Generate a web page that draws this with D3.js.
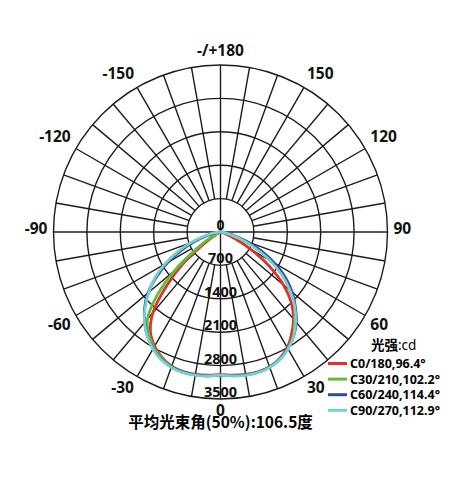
<!DOCTYPE html>
<html lang="zh">
  <head>
    <meta charset="UTF-8" />
    <title>配光曲线</title>
    <script src="https://d3js.org/d3.v7.min.js"></script>
    <style>
      body {
        margin: 0;
        background: #fff;
        font-family: "Noto Sans", "Noto Sans CJK SC", sans-serif;
      }
      .lbl {
        font-weight: bold;
        fill: #111;
      }
    </style>
  </head>
  <body>
    <div id="chart"></div>
    <script>
      // gamma angles, -90 (left) .. 90 (right), step 5
      const angles = d3.range(-90, 91, 5);

      const ringTicks = [700, 1400, 2100, 2800, 3500];
      const angleTicks = [0, 30, 60, 90, 120, 150, 180, -150, -120, -90, -60, -30];
      const angleText = ["0", "30", "60", "90", "120", "150", "-/+180", "-150", "-120", "-90", "-60", "-30"];

      // intensity (cd) per angle in angles[]
      const c0 = [
        0, 0, 0, 5, 15, 40, 120, 380, 1000, 1600, 2200, 2560, 2760, 2900, 2990,
        3030, 3030, 3010, 2990, 3010, 3030, 3040, 3010, 2930, 2800, 2600, 2380,
        2100, 1720, 1250, 750, 350, 130, 40, 10, 0, 0,
      ];
      const c30 = [
        0, 0, 5, 15, 40, 100, 250, 600, 1250, 1880, 2380, 2620, 2790, 2920,
        3000, 3030, 3040, 3030, 3000, 3020, 3040, 3040, 3010, 2940, 2820, 2660,
        2420, 2200, 1900, 1600, 1230, 850, 500, 250, 100, 30, 0,
      ];
      const c60 = [
        0, 40, 130, 300, 560, 900, 1280, 1640, 1980, 2250, 2470, 2670, 2820,
        2940, 3010, 3040, 3040, 3020, 3000, 3020, 3040, 3040, 3010, 2940, 2820,
        2670, 2470, 2220, 1960, 1660, 1300, 950, 600, 320, 140, 40, 0,
      ];
      const c90 = [
        0, 60, 200, 400, 680, 1000, 1350, 1680, 1960, 2230, 2480, 2670, 2830,
        2950, 3020, 3050, 3050, 3030, 3000, 3030, 3050, 3050, 3020, 2950, 2830,
        2670, 2450, 2200, 1900, 1570, 1200, 800, 480, 250, 100, 30, 0,
      ];

      const seriesNames = [
        "C0/180,96.4°",
        "C30/210,102.2°",
        "C60/240,114.4°",
        "C90/270,112.9°",
      ];
      const seriesValues = [c0, c30, c60, c90];
      const colors = ["#e3302c", "#66bb36", "#2c4d9e", "#78cfcf"];

      const width = 459;
      const height = 500;
      const cx = 220.5;
      const cy = 232;
      const R = 167;

      const svg = d3
        .select("#chart")
        .append("svg")
        .attr("width", width)
        .attr("height", height);

      const r = d3.scaleLinear().domain([0, 3500]).range([0, R]);
      // 0 deg points down, positive to the right
      const toRad = (deg) => Math.PI - (deg * Math.PI) / 180;

      const g = svg.append("g").attr("transform", `translate(${cx},${cy})`);

      // grid rings
      g.selectAll("circle.ring")
        .data(ringTicks)
        .enter()
        .append("circle")
        .attr("class", "ring")
        .attr("r", (d) => r(d))
        .attr("fill", "none")
        .attr("stroke", "#1c1c1c")
        .attr("stroke-width", 1.4);

      // spokes every 10 deg, main axes reach the centre
      const spokes = d3.range(0, 360, 10);
      g.selectAll("line.spoke")
        .data(spokes)
        .enter()
        .append("line")
        .attr("class", "spoke")
        .each(function (d) {
          const a = toRad(d);
          const r0 = d % 90 === 0 ? 0 : r(ringTicks[0]);
          d3.select(this)
            .attr("x1", r0 * Math.sin(a))
            .attr("y1", -r0 * Math.cos(a))
            .attr("x2", R * Math.sin(a))
            .attr("y2", -R * Math.cos(a));
        })
        .attr("stroke", "#1c1c1c")
        .attr("stroke-width", 1.4);

      // curves
      const line = d3
        .lineRadial()
        .angle((d) => toRad(d[0]))
        .radius((d) => r(d[1]))
        .curve(d3.curveCatmullRom);

      seriesValues.forEach((vals, i) => {
        g.append("path")
          .datum(angles.map((a, j) => [a, vals[j]]))
          .attr("d", line)
          .attr("fill", "none")
          .attr("stroke", colors[i])
          .attr("stroke-width", 2.8)
          .attr("stroke-linejoin", "round");
      });

      // ring labels along the downward axis
      g.append("text")
        .attr("class", "lbl")
        .attr("text-anchor", "middle")
        .style("font-size", "14px")
        .attr("x", 0)
        .attr("y", -2)
        .text("0");
      g.selectAll("text.ringlbl")
        .data(ringTicks)
        .enter()
        .append("text")
        .attr("class", "lbl ringlbl")
        .attr("text-anchor", "middle")
        .style("font-size", "14.5px")
        .attr("x", 0)
        .attr("y", (d) => r(d) - 2)
        .text((d) => d);

      // angle labels: text starts/ends just outside the outer ring
      g.selectAll("text.anglbl")
        .data(angleTicks)
        .enter()
        .append("text")
        .attr("class", "lbl anglbl")
        .style("font-size", "15.5px")
        .attr("text-anchor", (d) =>
          d === 0 || d === 180 ? "middle" : d > 0 ? "start" : "end"
        )
        .attr("dominant-baseline", "central")
        .attr("x", (d) => 173 * Math.sin((d * Math.PI) / 180))
        .attr("y", (d) => {
          const c = Math.cos((d * Math.PI) / 180);
          if (Math.abs(c) < 0.01) return -4;
          return 172 * c + 8 * Math.sign(c) - 2;
        })
        .text((d, i) => angleText[i]);

      // legend
      const legend = svg.append("g").attr("transform", "translate(328,345)");
      const title = legend
        .append("text")
        .attr("x", 43)
        .attr("y", 5)
        .style("font-size", "13.5px");
      title
        .append("tspan")
        .style("font-family", "'Noto Sans CJK SC'")
        .style("font-weight", "bold")
        .text("光强");
      title.append("tspan").text(":cd");

      seriesNames.forEach((name, i) => {
        const y = 18.5 + i * 15.6;
        legend
          .append("line")
          .attr("x1", 0)
          .attr("x2", 19)
          .attr("y1", y)
          .attr("y2", y)
          .attr("stroke", colors[i])
          .attr("stroke-width", 3);
        legend
          .append("text")
          .attr("x", 22)
          .attr("y", y)
          .attr("dominant-baseline", "central")
          .style("font-size", "12.5px")
          .style("font-weight", "bold")
          .text(name);
      });

      // bottom caption
      svg
        .append("text")
        .attr("x", cx)
        .attr("y", 428)
        .attr("text-anchor", "middle")
        .style("font-family", "'Noto Sans CJK SC', sans-serif")
        .style("font-size", "15.5px")
        .style("font-weight", "bold")
        .text("平均光束角(50%):106.5度");
    </script>
  </body>
</html>
